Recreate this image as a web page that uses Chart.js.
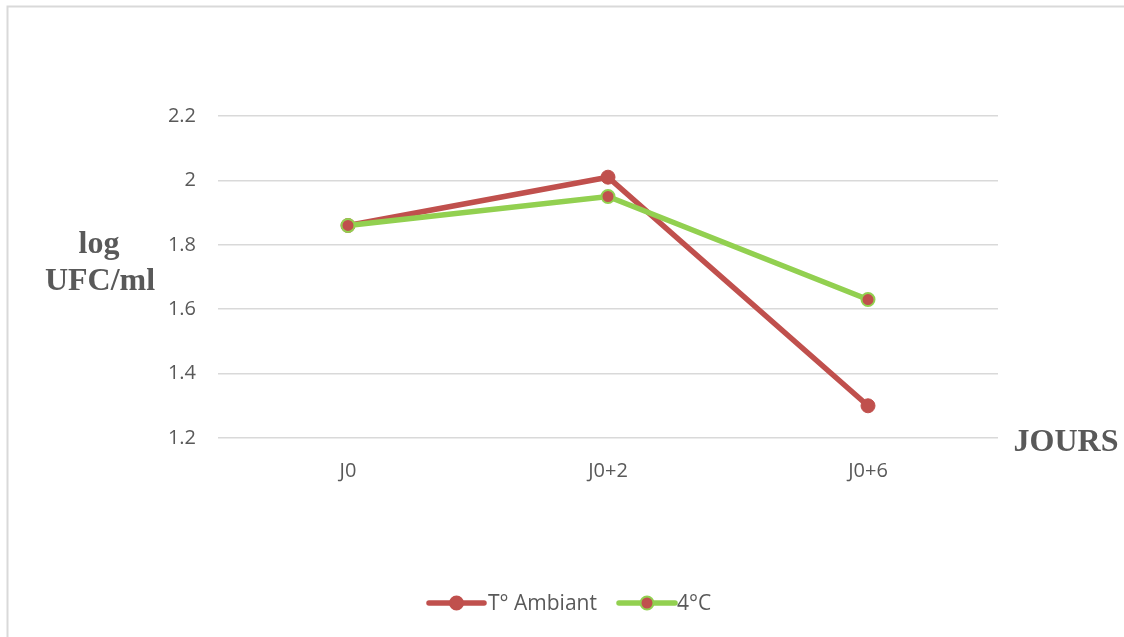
<!DOCTYPE html>
<html>
<head>
<meta charset="utf-8">
<script src="https://cdn.jsdelivr.net/npm/chart.js@4.4.1/dist/chart.umd.min.js"></script>
<style>
  html, body { margin: 0; padding: 0; background: #ffffff; }
  #wrap { position: relative; width: 1124px; height: 637px; }
</style>
</head>
<body>
<div id="wrap"><canvas id="c" width="1124" height="637"></canvas></div>
<script>
// Sampling days and bacterial counts (log UFC/ml)
const categories = ['J0', 'J0+2', 'J0+6'];
const ambientValues = [1.86, 2.01, 1.30];
const coldValues = [1.86, 1.95, 1.63];
const seriesNames = ['T° Ambiant', '4°C'];
const yTicks = [1.2, 1.4, 1.6, 1.8, 2.0, 2.2];

const RED = '#C0504D';
const GREEN = '#92D050';
const GRID = '#d9d9d9';
const TEXT = '#595959';

// Frame, axis titles and legend drawn around the plot
const decorations = {
  id: 'decorations',
  beforeDraw(chart) {
    const ctx = chart.ctx;
    ctx.save();
    ctx.strokeStyle = GRID;
    ctx.lineWidth = 2;
    ctx.beginPath();
    ctx.moveTo(7.5, 637);
    ctx.lineTo(7.5, 6.5);
    ctx.lineTo(1124, 6.5);
    ctx.stroke();
    ctx.restore();
  },
  afterDraw(chart) {
    const ctx = chart.ctx;
    ctx.save();
    ctx.fillStyle = TEXT;
    ctx.font = 'bold 32px "Liberation Serif", "Times New Roman", serif';
    ctx.textAlign = 'center';
    ctx.textBaseline = 'middle';
    ctx.fillText('log', 99, 245);
    ctx.fillText('UFC/ml', 100, 282);
    ctx.fillText('JOURS', 1066, 443);

    // legend
    const legendY = 603;
    const items = [
      { name: seriesNames[0], line: RED, fill: RED, border: RED, x0: 429, x1: 484, tx: 488 },
      { name: seriesNames[1], line: GREEN, fill: RED, border: GREEN, x0: 619, x1: 675, tx: 677 }
    ];
    items.forEach(it => {
      ctx.strokeStyle = it.line;
      ctx.lineWidth = 5.5;
      ctx.lineCap = 'round';
      ctx.beginPath();
      ctx.moveTo(it.x0, legendY);
      ctx.lineTo(it.x1, legendY);
      ctx.stroke();
      ctx.beginPath();
      ctx.arc((it.x0 + it.x1) / 2, legendY, 6.5, 0, Math.PI * 2);
      ctx.fillStyle = it.fill;
      ctx.fill();
      ctx.lineWidth = 2;
      ctx.strokeStyle = it.border;
      ctx.stroke();
      ctx.fillStyle = TEXT;
      ctx.font = '21px "Open Sans", sans-serif';
      ctx.textAlign = 'left';
      ctx.textBaseline = 'middle';
      ctx.fillText(it.name, it.tx, legendY + 1);
    });
    ctx.restore();
  }
};

new Chart(document.getElementById('c'), {
  type: 'line',
  data: {
    labels: categories,
    datasets: [
      {
        label: seriesNames[0],
        data: ambientValues,
        borderColor: RED,
        backgroundColor: RED,
        pointBackgroundColor: RED,
        pointBorderColor: RED,
        borderWidth: 5.5,
        pointRadius: 7,
        pointBorderWidth: 1,
        tension: 0,
        order: 1
      },
      {
        label: seriesNames[1],
        data: coldValues,
        borderColor: GREEN,
        backgroundColor: GREEN,
        pointBackgroundColor: RED,
        pointBorderColor: GREEN,
        borderWidth: 5.5,
        pointRadius: 6.5,
        pointBorderWidth: 2,
        tension: 0,
        order: 0
      }
    ]
  },
  options: {
    responsive: false,
    animation: false,
    devicePixelRatio: 1,
    layout: { padding: { left: 0, top: 116, right: 126, bottom: 0 } },
    plugins: {
      legend: { display: false },
      tooltip: { enabled: false }
    },
    scales: {
      x: {
        offset: true,
        grid: { display: false },
        border: { display: false },
        ticks: {
          color: TEXT,
          font: { family: '"Open Sans", sans-serif', size: 20 },
          padding: 13
        },
        afterFit(s) { s.height = 199; }
      },
      y: {
        min: 1.2,
        max: 2.2,
        afterBuildTicks(s) { s.ticks = yTicks.map(v => ({ value: v })); },
        grid: { color: GRID, lineWidth: 1.5, drawTicks: false },
        border: { display: false },
        ticks: {
          color: TEXT,
          font: { family: '"Open Sans", sans-serif', size: 20 },
          padding: 22,
          callback: v => String(Math.round(v * 10) / 10)
        },
        afterFit(s) { s.width = 218; }
      }
    }
  },
  plugins: [decorations]
});
</script>
</body>
</html>
